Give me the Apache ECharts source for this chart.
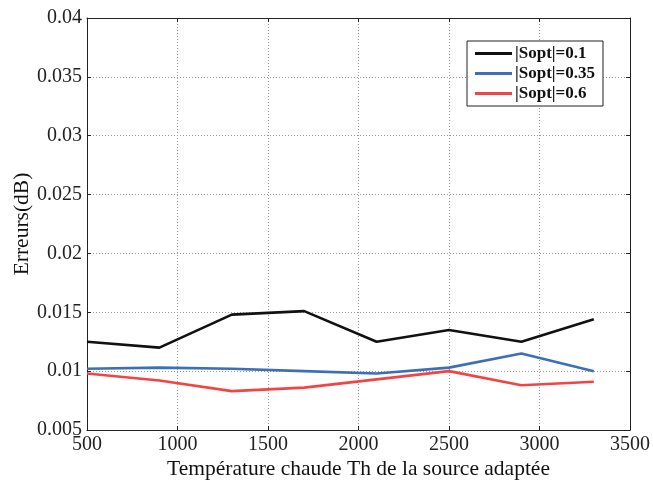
<!DOCTYPE html>
<html>
<head>
<meta charset="utf-8">
<script src="https://cdn.jsdelivr.net/npm/echarts@6/dist/echarts.min.js"></script>
<style>
  html, body { margin: 0; padding: 0; background: #fff; }
  #chart { width: 653px; height: 481px; }
</style>
</head>
<body>
<div id="chart"></div>
<script>
// Temperature of the matched source (x) and measured error for each |Sopt|
const temperatures = [500, 900, 1300, 1700, 2100, 2500, 2900, 3300];
const errSopt01  = [0.0125, 0.0120, 0.0148, 0.0151, 0.0125, 0.0135, 0.0125, 0.0144];
const errSopt035 = [0.0102, 0.0103, 0.0102, 0.0100, 0.0098, 0.0103, 0.0115, 0.0100];
const errSopt06  = [0.0098, 0.0092, 0.0083, 0.0086, 0.0093, 0.0100, 0.0088, 0.0091];
const seriesNames = ['|Sopt|=0.1', '|Sopt|=0.35', '|Sopt|=0.6'];
const seriesColors = ['#111111', '#3d6fb6', '#f24444'];

const serif = 'Liberation Serif';
const chart = echarts.init(document.getElementById('chart'));

const pairs = arr => temperatures.map((t, i) => [t, arr[i]]);
const mkSeries = (name, data, color) => ({
  name, type: 'line', data: pairs(data), xAxisIndex: 0, yAxisIndex: 0,
  symbol: 'none', lineStyle: { color, width: 2.6 }, itemStyle: { color },
  animation: false
});

const gridLine = { show: true, lineStyle: { color: '#9a9a9a', type: [1, 2], width: 1 } };
const frameLine = { show: true, onZero: false, lineStyle: { color: '#222', width: 1 } };
const tickIn = { show: true, inside: true, length: 4, lineStyle: { color: '#222' } };

chart.setOption({
  backgroundColor: '#ffffff',
  grid: { left: 87, right: 23, top: 18, bottom: 51, outerBoundsMode: 'none', containLabel: false },
  legend: {
    data: seriesNames,
    orient: 'vertical',
    left: 467, top: 41,
    itemWidth: 37, itemHeight: 3, itemGap: 3,
    padding: [4, 8, 4, 8],
    backgroundColor: '#fff',
    borderColor: '#222', borderWidth: 1, borderRadius: 0,
    icon: 'rect',
    textStyle: { fontFamily: serif, fontWeight: 'bold', fontSize: 17, color: '#111', padding: [0, 0, 0, -2] }
  },
  xAxis: [{
    type: 'value', min: 500, max: 3500, interval: 500,
    name: 'Température chaude Th de la source adaptée',
    nameLocation: 'middle', nameGap: 28, nameMoveOverlap: false,
    nameTextStyle: { fontFamily: serif, fontSize: 21.5, color: '#111' },
    axisLine: frameLine, axisTick: tickIn, splitLine: gridLine,
    axisLabel: { fontFamily: serif, fontSize: 20, color: '#222', margin: 5, formatter: v => String(v) }
  }, {
    type: 'value', min: 500, max: 3500, interval: 500, position: 'top',
    axisLine: frameLine, axisTick: tickIn, splitLine: { show: false },
    axisLabel: { show: false }
  }],
  yAxis: [{
    type: 'value', min: 0.005, max: 0.04, interval: 0.005,
    name: 'Erreurs(dB)',
    nameLocation: 'middle', nameGap: 54, nameMoveOverlap: false,
    nameTextStyle: { fontFamily: serif, fontSize: 21.5, color: '#111' },
    axisLine: frameLine, axisTick: tickIn, splitLine: gridLine,
    axisLabel: {
      fontFamily: serif, fontSize: 20, color: '#222', margin: 5,
      formatter: v => String(+v.toFixed(3))
    }
  }, {
    type: 'value', min: 0.005, max: 0.04, interval: 0.005, position: 'right',
    axisLine: frameLine, axisTick: tickIn, splitLine: { show: false },
    axisLabel: { show: false }
  }],
  series: [
    mkSeries(seriesNames[0], errSopt01, seriesColors[0]),
    mkSeries(seriesNames[1], errSopt035, seriesColors[1]),
    mkSeries(seriesNames[2], errSopt06, seriesColors[2])
  ]
});
</script>
</body>
</html>
